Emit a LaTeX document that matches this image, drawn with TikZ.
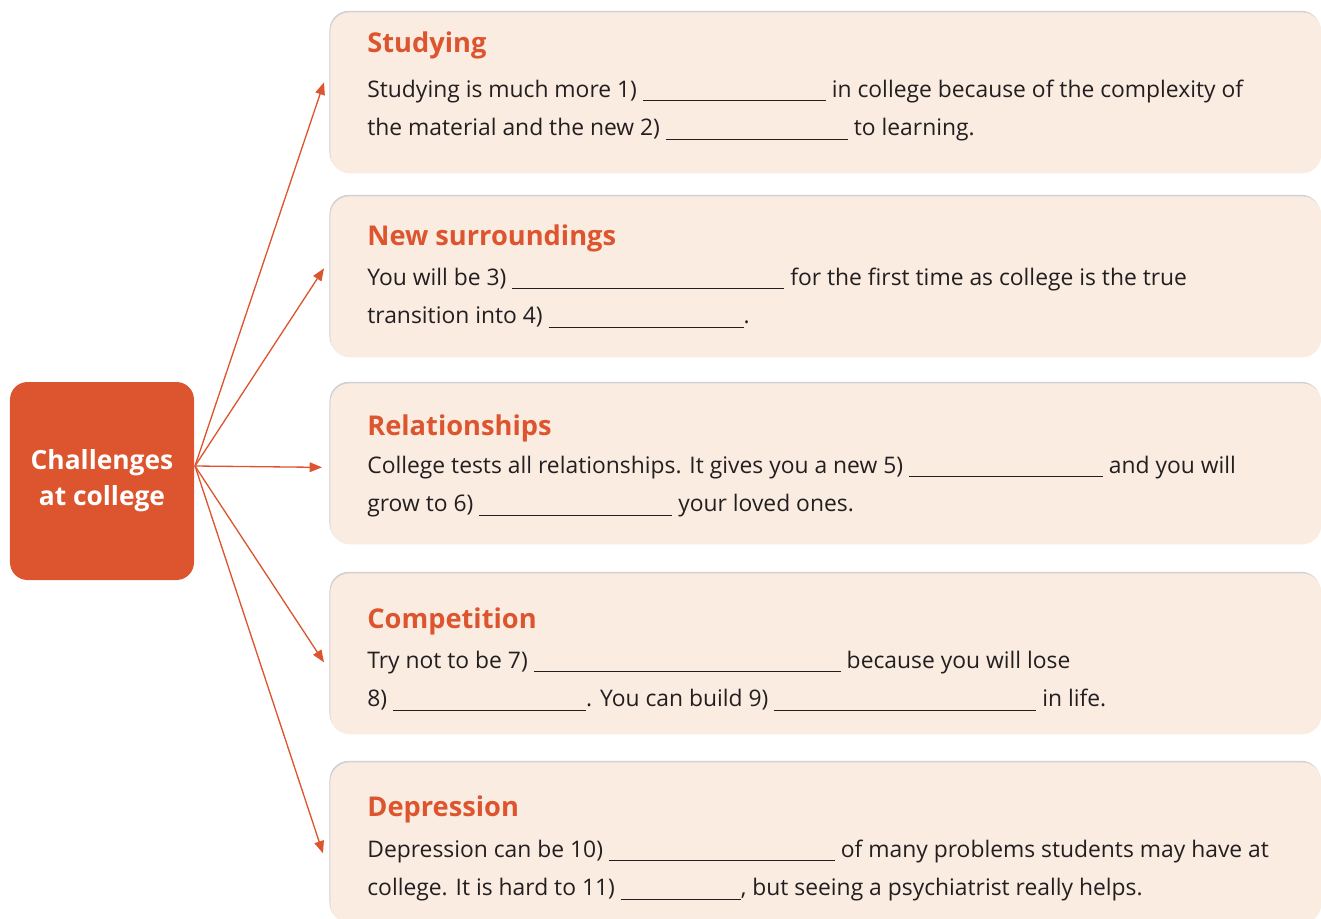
\documentclass[tikz,border=0pt]{standalone}
\usepackage{fontspec}
\setmainfont{Open Sans}
\usetikzlibrary{arrows.meta, positioning, shadows}

\definecolor{brick}{HTML}{DC552E}
\definecolor{peach}{HTML}{FBECE2}
\definecolor{ink}{HTML}{231F20}

% answer line, width given in 0.02cm steps
\newcommand{\blank}[1]{\rule[-2.2pt]{\dimexpr 0.02cm*#1\relax}{0.55pt}}
% two text lines, baseline on the first one
\newcommand{\twolines}[2]{\vtop{\hbox{#1}\hbox{#2}}}

\begin{document}
\begin{tikzpicture}[
        hubbox/.style={rectangle, rounded corners=10pt, fill=brick, text=white, minimum width=3.68cm, minimum height=3.96cm, align=center, font=\fontsize{15}{20.5}\selectfont\bfseries},
        topicbox/.style={rectangle, rounded corners=11pt, fill=peach, minimum width=19.82cm, minimum height=3.22cm, anchor=north west,
            drop shadow={shadow xshift=-0.5pt, shadow yshift=0.9pt, fill=black!40, opacity=0.45}},
        heading/.style={anchor=base west, inner sep=0pt, text=brick, font=\fontsize{15.5}{18}\selectfont\bfseries},
        body/.style={anchor=base west, inner sep=0pt, text=ink, font=\fontsize{13}{22}\selectfont},
        spoke/.style={-{Triangle[length=7pt, width=5.5pt]}, draw=brick, line width=0.75pt}
    ]
        \useasboundingbox (0,0) rectangle (26.42,-18.36);

        \node[hubbox] (challenges) at (2.04,-9.62) {Challenges\\at college};
        \coordinate (hub) at (3.90,-9.32);

        % the five topics
        \node[topicbox] (studying) at (6.60,-0.24) {};
        \node[heading] (studyinghead) at (7.34,-1.06) {Studying};
        \node[body] (studyingtext) at (7.34,-1.94) {\twolines{Studying is much more 1) \blank{183} in college because of the complexity of}{the material and the new 2) \blank{182} to learning.}};

        \node[topicbox] (surround) at (6.60,-3.92) {};
        \node[heading] (surroundhead) at (7.34,-4.90) {New surroundings};
        \node[body] (surroundtext) at (7.34,-5.70) {\twolines{You will be 3) \blank{272} for the first time as college is the true}{transition into 4) \blank{195}.}};

        \node[topicbox] (relation) at (6.60,-7.66) {};
        \node[heading] (relationhead) at (7.34,-8.70) {Relationships};
        \node[body] (relationtext) at (7.34,-9.46) {\twolines{College tests all relationships. It gives you a new 5) \blank{194} and you will}{grow to 6) \blank{193} your loved ones.}};

        \node[topicbox] (compete) at (6.60,-11.46) {};
        \node[heading] (competehead) at (7.34,-12.56) {Competition};
        \node[body] (competetext) at (7.34,-13.36) {\twolines{Try not to be 7) \blank{307} because you will lose}{8) \blank{193}. You can build 9) \blank{262} in life.}};

        \node[topicbox] (depress) at (6.60,-15.24) {};
        \node[heading] (depresshead) at (7.34,-16.32) {Depression};
        \node[body] (depresstext) at (7.34,-17.14) {\twolines{Depression can be 10) \blank{226} of many problems students may have at}{college. It is hard to 11) \blank{120}, but seeing a psychiatrist really helps.}};

        % spokes from the hub
        \draw[spoke] (hub) -- ([shift={(-0.12,0.21)}]studying.west);
        \draw[spoke] (hub) -- ([shift={(-0.12,0.17)}]surround.west);
        \draw[spoke] (hub) -- ([shift={(-0.16,-0.07)}]relation.west);
        \draw[spoke] (hub) -- ([shift={(-0.12,-0.17)}]compete.west);
        \draw[spoke] (hub) -- ([shift={(-0.14,-0.21)}]depress.west);
    \end{tikzpicture}
\end{document}
